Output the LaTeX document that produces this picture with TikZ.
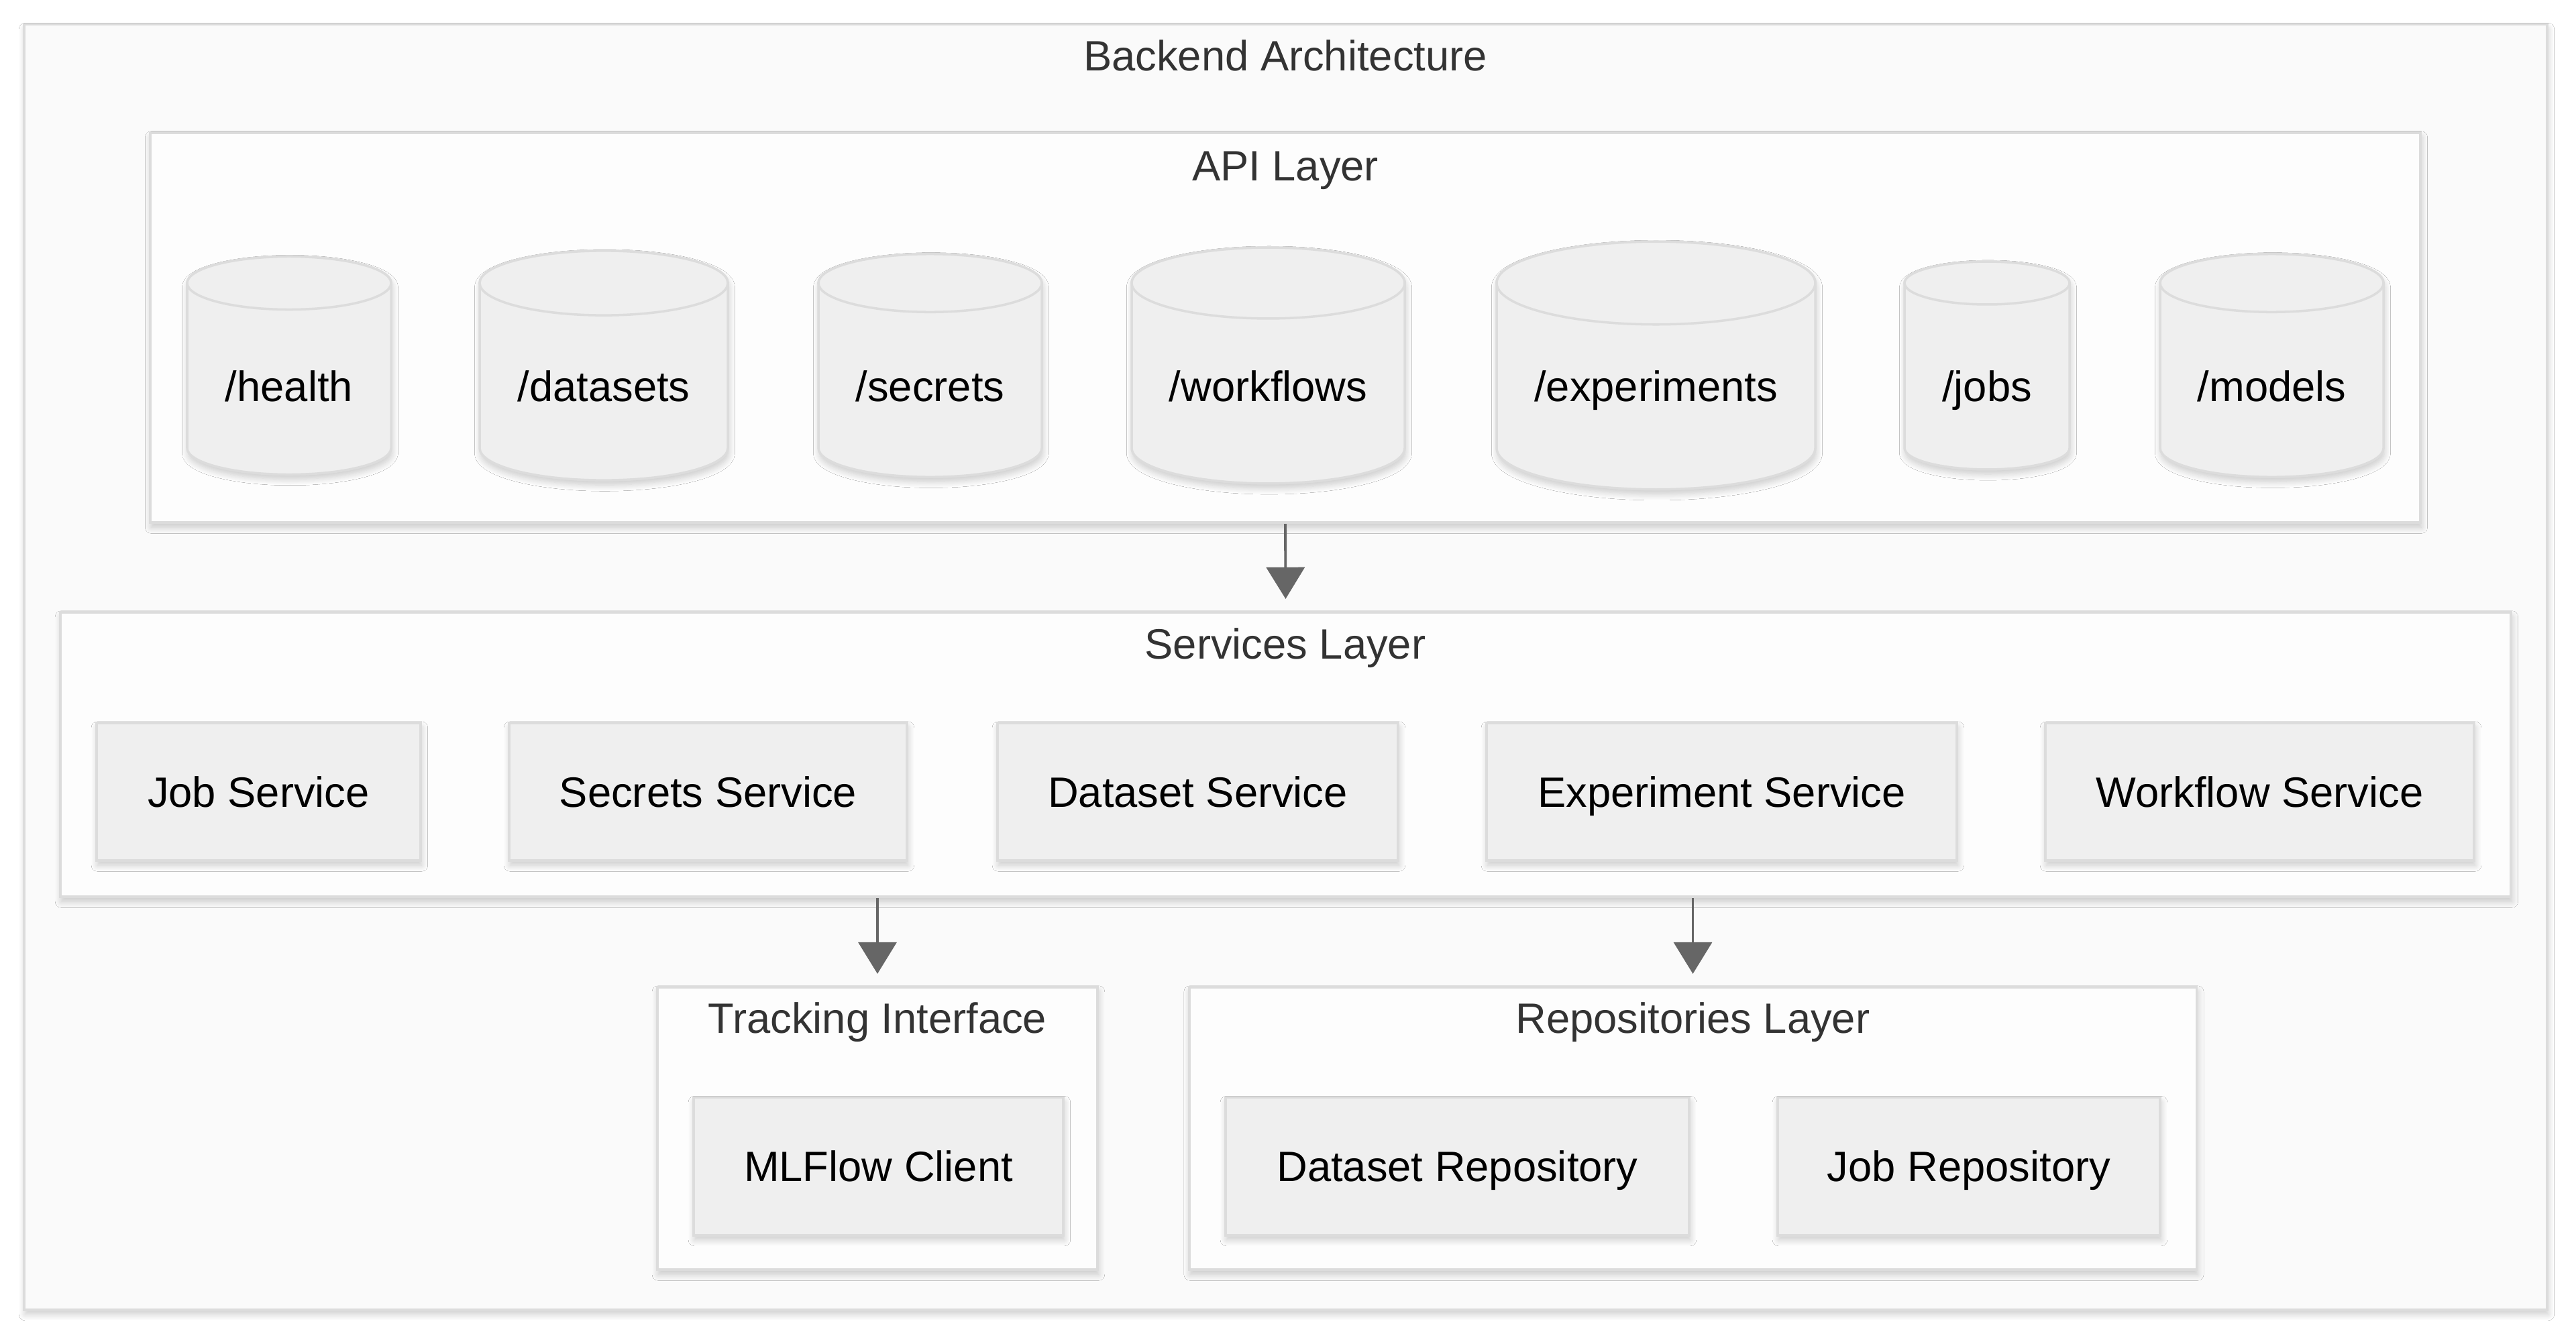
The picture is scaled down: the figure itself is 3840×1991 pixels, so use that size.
\documentclass[tikz,border=0pt]{standalone}
\usepackage{fontspec}
\setmainfont{Liberation Sans}
\usetikzlibrary{arrows.meta,shadows.blur}
\definecolor{bgfill}{HTML}{FAFAFA}
\definecolor{grpfill}{HTML}{FDFDFD}
\definecolor{nodefill}{HTML}{EFEFEF}
\definecolor{edgegray}{HTML}{DCDCDC}
\definecolor{titlegray}{HTML}{333333}
\definecolor{arrowgray}{HTML}{666666}

\begin{document}
\begin{tikzpicture}[x=0.01cm,y=0.01cm,
    txt/.style={font=\fontsize{18pt}{21pt}\selectfont,text height=12.9pt,text depth=0pt,inner sep=0pt},
    soft/.style={blur shadow={shadow xshift=0.4pt,shadow yshift=-2pt,shadow blur radius=2.6pt,shadow blur steps=10,shadow opacity=20}},
    grpbox/.style={draw=edgegray,line width=1.1pt,fill=grpfill,soft,inner sep=0pt},
    grptitle/.style={txt,text=titlegray},
    itembox/.style={txt,draw=edgegray,line width=1.1pt,fill=nodefill,soft,minimum height=2.05cm},
    cyl/.style={draw=edgegray,line width=1pt,fill=nodefill},
    flow/.style={draw=arrowgray,line width=1.1pt,-{Triangle[length=13.4pt,width=16.2pt]},shorten >=0.18cm}]
  \fill[white] (0,0) rectangle (3840,-1991);
  \useasboundingbox (0,0) rectangle (3840,-1991);

  % outer frame
  \node[grpbox,fill=bgfill,minimum width=37.59cm,minimum height=19.15cm] (backend) at (1916.5,-994.5) {};
  \node[grptitle] (backendtitle) at (1916,-83) {Backend Architecture};

  % api layer
  \node[grpbox,minimum width=33.82cm,minimum height=5.81cm] (api) at (1916,-488.5) {};
  \node[grptitle] (apititle) at (1916,-247) {API Layer};
  \foreach \n/\cx/\w in {health/431/304,datasets/900/370,secrets/1386.5/333,workflows/1890.5/407,experiments/2468.5/475,jobs/2962/246,models/3386.5/333}
  {
    \pgfmathsetmacro\rx{\w/2}
    \pgfmathsetmacro\ry{0.13*\w}
    \path[cyl,soft] (\cx-\rx,-422) -- (\cx-\rx,-668) arc[start angle=180,end angle=360,x radius=\rx,y radius=\ry]
      -- (\cx+\rx,-422) arc[start angle=0,end angle=180,x radius=\rx,y radius=\ry] -- cycle;
    \draw[cyl] (\cx,-422) ellipse[x radius=\rx,y radius=\ry];
    \node[txt] (\n) at (\cx,-576) {/\n};
  }

  % services layer
  \node[grpbox,minimum width=36.51cm,minimum height=4.24cm] (services) at (1916.5,-1125) {};
  \node[grptitle] (servicestitle) at (1916,-960) {Services Layer};
  \node[itembox,minimum width=4.83cm] (jobsvc) at (385.5,-1180.5) {Job Service};
  \node[itembox,minimum width=5.93cm] (secretsvc) at (1055.5,-1180.5) {Secrets Service};
  \node[itembox,minimum width=5.97cm] (datasetsvc) at (1785.5,-1180.5) {Dataset Service};
  \node[itembox,minimum width=7.01cm] (expsvc) at (2566.5,-1180.5) {Experiment Service};
  \node[itembox,minimum width=6.39cm] (workflowsvc) at (3368.5,-1180.5) {Workflow Service};

  % tracking + repositories
  \node[grpbox,minimum width=6.56cm,minimum height=4.21cm] (tracking) at (1308,-1682.5) {};
  \node[grptitle] (trackingtitle) at (1308,-1518) {Tracking Interface};
  \node[itembox,minimum width=5.51cm] (mlflow) at (1309.5,-1739) {MLFlow Client};

  \node[grpbox,minimum width=15.01cm,minimum height=4.21cm] (repos) at (2523.5,-1682.5) {};
  \node[grptitle] (repostitle) at (2523.5,-1518) {Repositories Layer};
  \node[itembox,minimum width=6.91cm] (datasetrepo) at (2172.5,-1739) {Dataset Repository};
  \node[itembox,minimum width=5.70cm] (jobrepo) at (2935,-1739) {Job Repository};

  % arrows between layers
  \draw[flow] (api.south) -- (services.north);
  \draw[flow] (services.south -| tracking.north) -- (tracking.north);
  \draw[flow] (services.south -| repos.north) -- (repos.north);
\end{tikzpicture}
\end{document}
